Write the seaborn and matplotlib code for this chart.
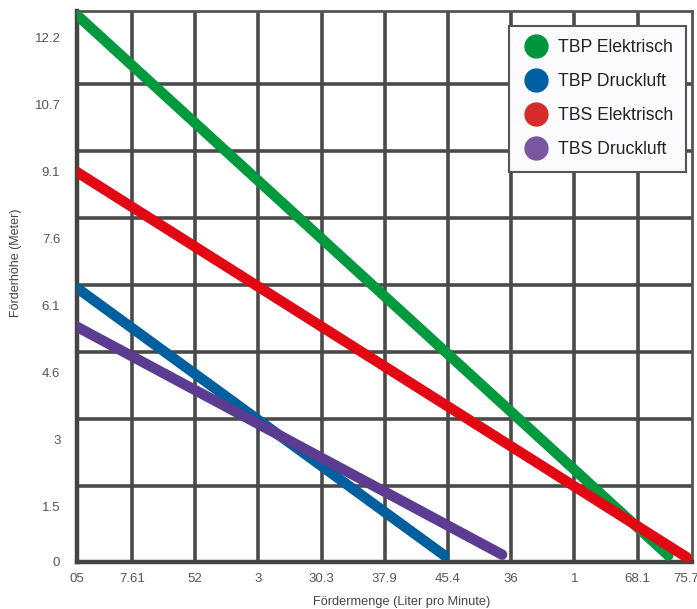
"""   Förderhöhe / Fördermenge chart for four pump types   """
import matplotlib
matplotlib.use('Agg')
import matplotlib.pyplot as plt
from matplotlib.lines import Line2D
import numpy as np
import pandas as pd
import seaborn as sns

# ~~~~~~~  Data  ~~~~~~~
series = ['TBP Elektrisch', 'TBP Druckluft', 'TBS Elektrisch', 'TBS Druckluft']
flow_tbp_el = [0, 71.8]      # Liter pro Minute
head_tbp_el = [12.42, -0.06]  # Meter
flow_tbp_dl = [0, 45.0]
head_tbp_dl = [6.17, -0.06]
flow_tbs_el = [0, 74.0]
head_tbs_el = [8.79, -0.1]
flow_tbs_dl = [0, 51.9]
head_tbs_dl = [5.25, -0.04]

x_tick_labels = ['05', '7.61', '52', '3', '30.3', '37.9', '45.4', '36', '1', '68.1', '75.7']
y_tick_labels = ['0', '1.5', '3', '4.6', '6.1', '7.6', '9.1', '10.7', '12.2']

line_colors = ['#009a3e', '#005f9e', '#e30613', '#5b3c91']
legend_colors = ['#00963f', '#005ea3', '#d52b2b', '#7a55a0']

# build the long table seaborn wants
frames = []
for name, fl, hd in zip(series,
                        [flow_tbp_el, flow_tbp_dl, flow_tbs_el, flow_tbs_dl],
                        [head_tbp_el, head_tbp_dl, head_tbs_el, head_tbs_dl]):
    frames.append(pd.DataFrame({'flow': fl, 'head': hd, 'pumpe': name}))
df = pd.concat(frames, ignore_index=True)

# ~~~~~~~  Plot  ~~~~~~~
sns.set_style('white')
plt.rcParams['font.family'] = ['Liberation Sans', 'DejaVu Sans']

fig = plt.figure(figsize=(6.97, 6.09), dpi=100)
ax = fig.add_axes([0.1105, 0.0777, 0.8819, 0.9043])

grid_col = '#4a4a4a'
step_x = 7.57    # 2 gpm in L/min
step_y = 1.524   # 5 ft in m
x_lo, x_hi = 1.0, 74.6
y_lo, y_hi = -0.2, 12.34

sns.lineplot(data=df, x='flow', y='head', hue='pumpe', hue_order=series,
             palette=line_colors, linewidth=7.5, legend=False,
             solid_capstyle='round', sort=False, estimator=None, ax=ax, zorder=3)

ax.set_xlim(x_lo, x_hi)
ax.set_ylim(y_lo, y_hi)

# gridlines on minor ticks, labels on major ticks
ax.xaxis.remove_overlapping_locs = False
ax.yaxis.remove_overlapping_locs = False
ax.set_xticks(step_x * np.arange(1, 10), minor=True)
ax.set_yticks(step_y * np.arange(1, 8), minor=True)
ax.grid(False, which='major')
ax.xaxis.grid(True, which='minor', color=grid_col, linewidth=2.6, zorder=0)
ax.yaxis.grid(True, which='minor', color=grid_col, linewidth=2.6, zorder=0)
ax.set_axisbelow(True)

xt = np.clip(step_x * np.arange(0, 11), x_lo, 73.9)
yt = np.clip(step_y * np.arange(0, 9) - 0.46, y_lo, y_hi)
ax.set_xticks(xt)
ax.set_xticklabels(x_tick_labels)
ax.set_yticks(yt)
ax.set_yticklabels(y_tick_labels)
ax.tick_params(which='both', length=0)
ax.tick_params(axis='x', pad=8, labelsize=9.5, labelcolor='#555555')
ax.tick_params(axis='y', pad=12, labelsize=9.5, labelcolor='#555555')

for side in ['left', 'bottom']:
    ax.spines[side].set_linewidth(3.2)
    ax.spines[side].set_color('#444444')
for side in ['top', 'right']:
    ax.spines[side].set_linewidth(2.0)
    ax.spines[side].set_color('#555555')

ax.set_xlabel('Fördermenge (Liter pro Minute)', fontsize=9.2, color='#444444', va='center')
ax.set_ylabel('Förderhöhe (Meter)', fontsize=9, color='#444444', va='center')
ax.xaxis.set_label_coords(0.528, -0.0726)
ax.yaxis.set_label_coords(-0.099, 0.543)

# legend with round markers
handles = [Line2D([], [], linestyle='none', marker='o', markersize=16.5,
                  markerfacecolor=c, markeredgecolor=c) for c in legend_colors]
leg = ax.legend(handles, series, loc='upper right', bbox_to_anchor=(0.991, 0.973),
                fontsize=12.7, frameon=True, fancybox=False, handlelength=1.57,
                handletextpad=0.43, labelspacing=0.97, borderpad=0.75,
                borderaxespad=0)
leg.get_frame().set_facecolor('#fbfbfd')
leg.get_frame().set_edgecolor('#555555')
leg.get_frame().set_linewidth(1.5)
leg.get_frame().set_alpha(1)
leg.set_zorder(5)
for t in leg.get_texts():
    t.set_color('#222222')

fig.savefig('out.png', dpi=100)
